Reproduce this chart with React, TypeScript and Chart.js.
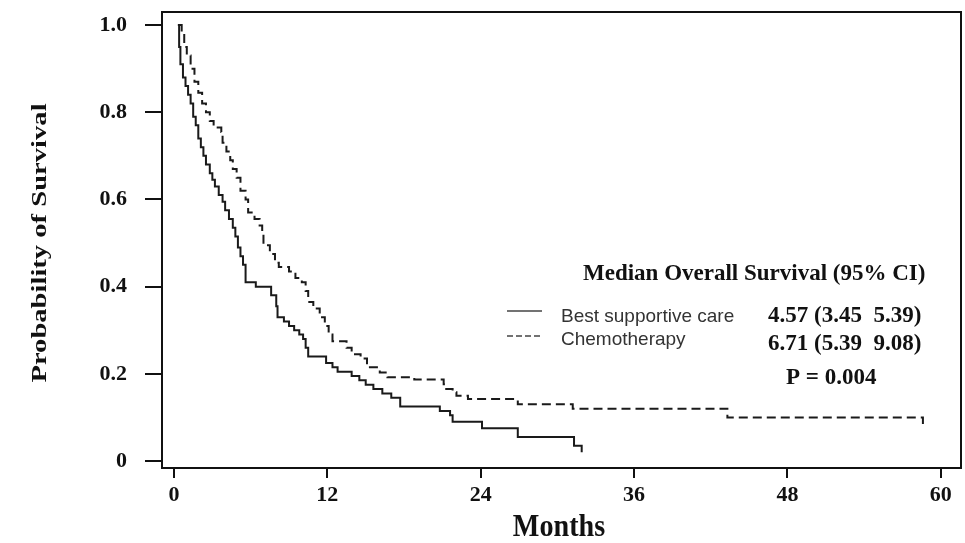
import React, { useEffect, useRef } from 'react';
import { Chart, registerables } from 'chart.js';
Chart.register(...registerables);

// Kaplan-Meier step data (months, survival probability)
const bscMonths = [0.3, 0.4, 0.5, 0.7, 0.9, 1.1, 1.3, 1.5, 1.7, 1.9, 2.1, 2.3, 2.5, 2.8, 3.0, 3.2, 3.5, 3.8, 4.0, 4.3, 4.6, 4.8, 5.0, 5.2, 5.4, 5.6, 6.4, 7.6, 8.0, 8.1, 8.6, 9.0, 9.4, 9.8, 10.1, 10.3, 10.5, 11.9, 12.4, 12.8, 13.9, 14.5, 15.0, 15.6, 16.3, 17.0, 17.7, 20.8, 21.6, 21.8, 24.1, 26.9, 31.3, 31.9];
const bscSurvival = [1.0, 0.95, 0.91, 0.88, 0.86, 0.84, 0.82, 0.79, 0.77, 0.74, 0.72, 0.70, 0.68, 0.66, 0.645, 0.63, 0.61, 0.595, 0.575, 0.555, 0.535, 0.515, 0.49, 0.47, 0.45, 0.41, 0.40, 0.38, 0.355, 0.33, 0.32, 0.31, 0.30, 0.29, 0.28, 0.26, 0.24, 0.225, 0.215, 0.205, 0.195, 0.185, 0.175, 0.165, 0.155, 0.145, 0.125, 0.115, 0.105, 0.09, 0.075, 0.055, 0.035, 0.02];

const chemoMonths = [0.4, 0.6, 0.8, 1.0, 1.3, 1.6, 1.9, 2.2, 2.5, 2.8, 3.1, 3.7, 3.8, 4.1, 4.4, 4.6, 4.9, 5.2, 5.6, 5.8, 6.3, 6.7, 6.9, 7.0, 7.5, 7.9, 8.2, 9.0, 9.5, 10.0, 10.3, 10.5, 10.9, 11.4, 11.8, 12.1, 12.4, 13.5, 13.9, 14.6, 15.1, 16.1, 16.7, 18.8, 21.1, 21.3, 21.8, 22.1, 23.0, 26.9, 31.2, 43.3, 58.6];
const chemoSurvival = [1.0, 0.98, 0.95, 0.93, 0.90, 0.87, 0.845, 0.82, 0.80, 0.78, 0.765, 0.755, 0.73, 0.71, 0.69, 0.67, 0.65, 0.62, 0.60, 0.57, 0.555, 0.54, 0.525, 0.495, 0.475, 0.455, 0.445, 0.435, 0.42, 0.41, 0.39, 0.365, 0.35, 0.33, 0.31, 0.29, 0.275, 0.26, 0.245, 0.235, 0.215, 0.203, 0.192, 0.187, 0.176, 0.165, 0.158, 0.15, 0.142, 0.13, 0.12, 0.10, 0.085];

const xTickValues = [0, 12, 24, 36, 48, 60];
const yTickValues = [0, 0.2, 0.4, 0.6, 0.8, 1.0];
const seriesLabels = ['Best supportive care', 'Chemotherapy'];
const medianTexts = ['4.57 (3.45  5.39)', '6.71 (5.39  9.08)'];
const tableTitle = 'Median Overall Survival (95% CI)';
const pValueText = 'P = 0.004';
const xTitle = 'Months';
const yTitle = 'Probability of Survival';

const SERIF = '"Liberation Serif", "Times New Roman", serif';
const SANS = '"Liberation Sans", Arial, sans-serif';

export default function App() {
  const ref = useRef<HTMLCanvasElement>(null);
  useEffect(() => {
    const canvas = ref.current;
    if (!canvas) return;
    const ctx = canvas.getContext('2d');
    if (!ctx) return;

    const overlay = {
      id: 'overlay',
      afterDraw(chart: any) {
        const c = chart.ctx as CanvasRenderingContext2D;
        const a = chart.chartArea;
        c.save();
        // plot box
        c.strokeStyle = '#111';
        c.lineWidth = 2;
        c.strokeRect(a.left, a.top, a.right - a.left, a.bottom - a.top);

        c.fillStyle = '#111';
        // y title (stretched along text direction)
        c.save();
        c.translate(40, 243);
        c.rotate(-Math.PI / 2);
        c.scale(1.3, 1);
        c.font = `bold 22px ${SERIF}`;
        c.textAlign = 'center';
        c.textBaseline = 'middle';
        c.fillText(yTitle, 0, 0);
        c.restore();

        // x title
        c.save();
        c.translate(559, 536);
        c.scale(0.88, 1);
        c.font = `bold 32px ${SERIF}`;
        c.textAlign = 'center';
        c.textBaseline = 'alphabetic';
        c.fillText(xTitle, 0, 0);
        c.restore();

        // table title and medians
        c.font = `bold 23px ${SERIF}`;
        c.textAlign = 'left';
        c.textBaseline = 'alphabetic';
        c.fillText(tableTitle, 583, 280);
        c.fillText(medianTexts[0], 768, 322);
        c.fillText(medianTexts[1], 768, 350);
        c.fillText(pValueText, 786, 384);

        // legend
        c.fillStyle = '#333';
        c.font = `19px ${SANS}`;
        c.fillText(seriesLabels[0], 561, 322);
        c.fillText(seriesLabels[1], 561, 345);
        c.strokeStyle = '#444';
        c.lineWidth = 1.5;
        c.beginPath();
        c.moveTo(507, 311);
        c.lineTo(542, 311);
        c.stroke();
        c.setLineDash([6, 3]);
        c.beginPath();
        c.moveTo(507, 336);
        c.lineTo(542, 336);
        c.stroke();
        c.restore();
      },
    };

    const chart = new Chart(ctx, {
      type: 'line',
      data: {
        datasets: [
          {
            label: seriesLabels[0],
            data: bscMonths.map((x, i) => ({ x, y: bscSurvival[i] })),
            borderColor: '#1a1a1a',
            borderWidth: 2,
            pointRadius: 0,
            stepped: true,
            fill: false,
          },
          {
            label: seriesLabels[1],
            data: chemoMonths.map((x, i) => ({ x, y: chemoSurvival[i] })),
            borderColor: '#1a1a1a',
            borderWidth: 2,
            borderDash: [9, 5],
            pointRadius: 0,
            stepped: true,
            fill: false,
          },
        ],
      },
      options: {
        responsive: false,
        maintainAspectRatio: false,
        animation: false,
        layout: { padding: { top: 12, right: 4, left: 0, bottom: 0 } },
        plugins: { legend: { display: false }, tooltip: { enabled: false } },
        scales: {
          x: {
            type: 'linear',
            min: -0.94,
            max: 61.58,
            afterBuildTicks: (s: any) => {
              s.ticks = xTickValues.map((v) => ({ value: v }));
            },
            afterFit: (s: any) => {
              s.height = 75;
              s.paddingLeft = 0;
              s.paddingRight = 0;
              s.paddingTop = 0;
              s.paddingBottom = 0;
            },
            grid: { display: true, drawOnChartArea: false, drawTicks: true, tickLength: 10, color: '#111', lineWidth: 2 },
            border: { display: false },
            ticks: {
              font: { family: SERIF, size: 22, weight: 'bold' },
              color: '#111',
              padding: 4,
              maxRotation: 0,
              autoSkip: false,
            },
          },
          y: {
            type: 'linear',
            min: -0.016,
            max: 1.03,
            afterBuildTicks: (s: any) => {
              s.ticks = yTickValues.map((v) => ({ value: v }));
            },
            afterFit: (s: any) => {
              s.width = 162;
              s.paddingTop = 0;
              s.paddingBottom = 0;
              s.paddingLeft = 0;
              s.paddingRight = 0;
            },
            grid: { display: true, drawOnChartArea: false, drawTicks: true, tickLength: 17, color: '#111', lineWidth: 2 },
            border: { display: false },
            ticks: {
              font: { family: SERIF, size: 22, weight: 'bold' },
              color: '#111',
              padding: 18,
              autoSkip: false,
              callback: (v: any) => (Number(v) === 0 ? '0' : Number(v).toFixed(1)),
            },
          },
        },
      },
      plugins: [overlay],
    } as any);
    return () => chart.destroy();
  }, []);

  return (
    <div style={{ position: 'fixed', left: 0, top: 0, width: 965, height: 543, background: '#fff' }}>
      <canvas ref={ref} width={965} height={543} style={{ width: 965, height: 543, display: 'block' }} />
    </div>
  );
}
